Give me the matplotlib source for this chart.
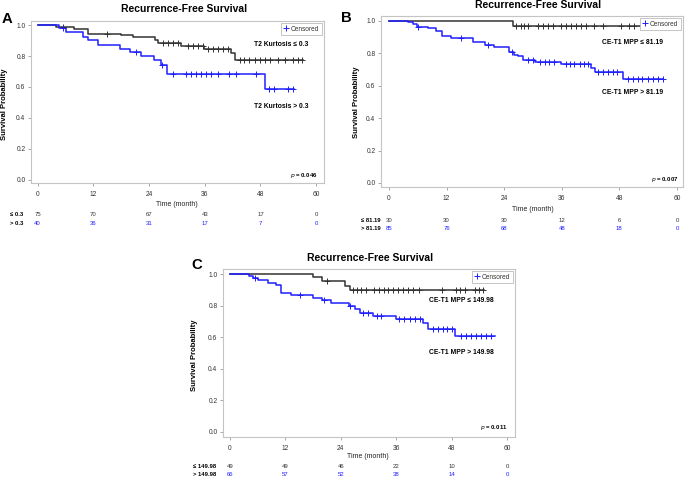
import numpy as np
import matplotlib
matplotlib.use('Agg')
import matplotlib.pyplot as plt
from matplotlib.lines import Line2D
from matplotlib import transforms

plt.rcParams['font.family'] = ['Liberation Sans', 'DejaVu Sans']

W, H = 685, 479
BLACK = '#333333'
BLUE = '#1f1fff'
FRAME = '#c4c4c4'

time_ticks = [0, 12, 24, 36, 48, 60]
surv_ticks = [0.0, 0.2, 0.4, 0.6, 0.8, 1.0]

# ---- panel A: T2 kurtosis ----
a_low_t = [3.95, 7.9, 10.8, 18.0, 20.5, 25.3, 25.9, 30.9, 35.8, 41.7, 42.5]
a_low_s = [0.987, 0.972, 0.944, 0.933, 0.920, 0.905, 0.882, 0.862, 0.843, 0.817, 0.776]
a_low_c = [5.5, 14.9, 26.9, 28.0, 29.1, 30.2, 32.3, 33.4, 34.5, 35.6, 36.6, 37.7, 38.8,
           39.9, 41.0, 43.5, 44.5, 45.6, 46.8, 48.0, 49.0, 50.1, 51.7, 53.2, 55.0, 56.0, 56.9]
a_low_end = 57.1
a_high_t = [4.7, 6.1, 9.7, 10.8, 12.9, 17.8, 20.0, 22.3, 25.0, 26.6, 27.9, 48.9]
a_high_s = [0.980, 0.953, 0.925, 0.903, 0.873, 0.847, 0.828, 0.798, 0.776, 0.744, 0.686, 0.589]
a_high_c = [5.4, 21.2, 26.8, 29.1, 32.0, 33.0, 34.1, 35.2, 36.3, 37.4, 38.8, 41.3, 42.7,
            47.0, 49.9, 50.9, 53.9, 55.0]
a_high_end = 55.2
a_risk_low = [75, 70, 67, 43, 17, 0]
a_risk_high = [40, 36, 31, 17, 7, 0]

# ---- panel B: CE-T1 MPP 81.19 ----
b_low_t = [25.9]
b_low_s = [0.969]
b_low_c = [26.5, 27.4, 28.2, 29.0, 31.0, 32.0, 33.1, 34.1, 35.8, 36.9, 37.9, 39.0, 40.0,
           41.0, 42.8, 44.5, 48.4, 50.1, 51.1, 52.8]
b_low_end = 53.0
b_high_t = [4.0, 4.9, 5.8, 8.1, 9.8, 11.0, 12.9, 17.6, 19.9, 21.9, 25.1, 26.1, 26.9, 27.9,
            30.4, 35.8, 42.0, 42.9, 48.8]
b_high_s = [0.992, 0.981, 0.965, 0.955, 0.940, 0.905, 0.895, 0.870, 0.854, 0.837, 0.810,
            0.792, 0.781, 0.759, 0.746, 0.732, 0.707, 0.682, 0.639]
b_high_c = [6.0, 15.0, 20.7, 25.6, 28.9, 29.9, 31.4, 32.4, 33.4, 34.4, 36.9, 37.8, 38.6,
            39.7, 40.6, 41.4, 43.5, 44.5, 45.6, 46.6, 47.6, 49.7, 50.8, 51.8, 52.8, 53.9,
            54.9, 56.0, 57.0]
b_high_end = 57.1
b_risk_low = [30, 30, 30, 12, 6, 0]
b_risk_high = [85, 76, 68, 48, 18, 0]

# ---- panel C: CE-T1 MPP 149.98 ----
c_low_t = [18.0, 20.0, 25.0, 25.9]
c_low_s = [0.981, 0.958, 0.922, 0.897]
c_low_c = [21.0, 26.6, 27.5, 28.4, 29.4, 31.3, 32.3, 33.3, 34.2, 35.3, 36.4, 37.4, 38.5,
           39.6, 41.0, 46.0, 49.0, 49.9, 50.8, 53.0, 53.9, 54.8]
c_low_end = 55.1
c_high_t = [4.1, 5.0, 6.1, 8.2, 10.0, 11.1, 13.3, 18.0, 20.0, 21.9, 25.8, 27.0, 28.1, 31.0,
            35.9, 41.8, 42.9, 48.8]
c_high_s = [0.987, 0.975, 0.960, 0.943, 0.928, 0.882, 0.865, 0.848, 0.833, 0.819, 0.797,
            0.781, 0.753, 0.736, 0.717, 0.688, 0.654, 0.605]
c_high_c = [5.5, 15.1, 20.4, 26.1, 28.9, 30.0, 31.8, 32.8, 36.7, 37.8, 38.9, 40.0, 41.1,
            43.9, 45.0, 46.1, 47.0, 48.1, 50.1, 51.2, 52.2, 53.3, 54.4, 55.5, 56.6]
c_high_end = 57.3
c_risk_low = [49, 49, 46, 22, 10, 0]
c_risk_high = [66, 57, 52, 38, 14, 0]

fig = plt.figure(figsize=(W / 100, H / 100), dpi=100)


def ftext(x, y, s, **kw):
    # text placed in pixel coordinates of the figure
    return fig.text(x / W, 1 - y / H, s, **kw)


def km_curve(ax, times, surv, cens, end, color):
    xs = [0] + list(times) + [end]
    ys = [1.0] + list(surv) + [surv[-1]]
    ax.step(xs, ys, where='post', color=color, lw=1.1, zorder=3)
    levels = np.array([1.0] + list(surv))
    idx = np.searchsorted(np.array(times), np.array(cens), side='right')
    ax.plot(cens, levels[idx], ls='none', marker='+', ms=4.8, mew=0.7, color=color, zorder=4)


def panel(box, xlim, ylim, low, high, risk_low, risk_high, labels, pval, txt):
    l, t, r, b = box
    ax = fig.add_axes([l / W, 1 - b / H, (r - l) / W, (b - t) / H])
    km_curve(ax, *low, BLACK)
    km_curve(ax, *high, BLUE)
    ax.set_xlim(*xlim)
    ax.set_ylim(*ylim)
    ax.set_xticks(time_ticks)
    ax.set_yticks(surv_ticks)
    ax.set_yticklabels([f'{v:.1f}' for v in surv_ticks])
    for sp in ax.spines.values():
        sp.set_color(FRAME)
        sp.set_linewidth(0.8)
    ax.tick_params(axis='both', length=2.5, width=0.6, color='#999999', labelsize=4.8,
                   labelcolor='#333333', pad=1.5)
    ax.tick_params(axis='x', pad=3)

    h = Line2D([], [], ls='none', marker='+', ms=4, mew=0.7, color=BLUE)
    leg = ax.legend([h], ['Censored'], loc='upper right', fontsize=4.7, handlelength=0.8,
                    handletextpad=0.4, borderpad=0.35, borderaxespad=0.35, fancybox=False,
                    framealpha=1)
    leg.get_frame().set_edgecolor('#bbbbbb')
    leg.get_frame().set_linewidth(0.6)
    leg.get_texts()[0].set_color('#333333')

    # curve labels and p value
    (lx, ly1, ly2) = labels[0]
    ftext(lx, ly1, labels[1], ha='right', va='center', fontsize=4.9, fontweight='bold')
    ftext(lx, ly2, labels[2], ha='right', va='center', fontsize=4.9, fontweight='bold')
    px, py = pval[0]
    ftext(px, py, r'$\bf{\it{p}}$' + f' = {pval[1]}', ha='right', va='center', fontsize=4.3,
          fontweight='bold')

    # title, letter, axis labels
    ftext(*txt['title'], 'Recurrence-Free Survival', ha='center', va='center', fontsize=7.5,
          fontweight='bold')
    ftext(*txt['letter'], ha='left', va='center', fontsize=10.7, fontweight='bold')
    ftext(*txt['ylab'], 'Survival Probability', rotation=90, ha='center', va='center',
          fontsize=5.5, fontweight='bold')
    ftext(*txt['xlab'], 'Time (month)', ha='center', va='center', fontsize=5.0, color='#222222')

    # numbers at risk
    tr = transforms.blended_transform_factory(ax.transData, fig.transFigure)
    rx, ry1, ry2 = txt['risk']
    ftext(rx, ry1, txt['rlab'][0], ha='left', va='center', fontsize=4.2, fontweight='bold')
    ftext(rx, ry2, txt['rlab'][1], ha='left', va='center', fontsize=4.2, fontweight='bold')
    for xt, n1, n2 in zip(time_ticks, risk_low, risk_high):
        ax.text(xt, 1 - ry1 / H, str(n1), transform=tr, ha='center', va='center',
                fontsize=4.3, color='#333333')
        ax.text(xt, 1 - ry2 / H, str(n2), transform=tr, ha='center', va='center',
                fontsize=4.3, color=BLUE)
    return ax


panel((31, 21, 324, 183), (-1.44, 61.7), (-0.02, 1.026),
      (a_low_t, a_low_s, a_low_c, a_low_end), (a_high_t, a_high_s, a_high_c, a_high_end),
      a_risk_low, a_risk_high,
      ((308, 45, 107), 'T2 Kurtosis \u2264 0.3', 'T2 Kurtosis > 0.3'),
      ((317, 176), '0.046'),
      {'title': (184.5, 9), 'letter': (1.5, 19, 'A'), 'ylab': (5, 104),
       'xlab': (177, 205), 'risk': (10, 214, 223), 'rlab': ('\u2264 0.3', '> 0.3')})

panel((381, 16, 683, 187), (-1.67, 61.25), (-0.025, 1.03),
      (b_low_t, b_low_s, b_low_c, b_low_end), (b_high_t, b_high_s, b_high_c, b_high_end),
      b_risk_low, b_risk_high,
      ((663, 42, 93), 'CE-T1 MPP \u2264 81.19', 'CE-T1 MPP > 81.19'),
      ((678, 180), '0.007'),
      {'title': (538.5, 5), 'letter': (341.5, 18, 'B'), 'ylab': (356.5, 102),
       'xlab': (533, 209), 'risk': (361, 220, 229), 'rlab': ('\u2264 81.19', '> 81.19')})

panel((223, 269, 515, 437), (-1.5, 61.73), (-0.032, 1.032),
      (c_low_t, c_low_s, c_low_c, c_low_end), (c_high_t, c_high_s, c_high_c, c_high_end),
      c_risk_low, c_risk_high,
      ((494, 301, 352), 'CE-T1 MPP \u2264 149.98', 'CE-T1 MPP > 149.98'),
      ((508, 428), '0.011'),
      {'title': (370.5, 258), 'letter': (191.5, 265, 'C'), 'ylab': (195, 355),
       'xlab': (368, 457), 'risk': (193, 467, 475), 'rlab': ('\u2264 149.98', '> 149.98')})

plt.savefig('out.png', dpi=100)
plt.close()
